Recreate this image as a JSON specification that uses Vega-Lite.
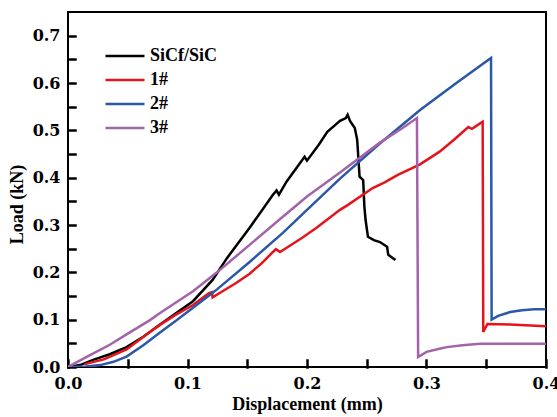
{
  "$schema": "https://vega.github.io/schema/vega-lite/v6.json",
  "width": 478,
  "height": 355,
  "autosize": {"type": "none"},
  "padding": {"left": 68, "top": 12, "right": 11, "bottom": 50},
  "background": "white",
  "config": {
    "view": {"stroke": "black", "strokeWidth": 2},
    "axis": {
      "domain": false,
      "ticks": true,
      "tickColor": "#000000",
      "tickOpacity": 1,
      "tickWidth": 2.5,
      "tickCap": "square",
      "zindex": 2,
      "grid": false,
      "labelFont": "DejaVu Serif",
      "labelFontWeight": "bold",
      "labelFontSize": 16,
      "labelColor": "black",
      "titleFont": "Liberation Serif",
      "titleFontWeight": "bold",
      "titleFontSize": 18,
      "titleColor": "black"
    }
  },
  "data": {
    "values": [
      {"s": "SiCf/SiC", "o": 1, "x": 0, "y": 0},
      {"s": "SiCf/SiC", "o": 2, "x": 0.01, "y": 0.004},
      {"s": "SiCf/SiC", "o": 3, "x": 0.021, "y": 0.015},
      {"s": "SiCf/SiC", "o": 4, "x": 0.035, "y": 0.027},
      {"s": "SiCf/SiC", "o": 5, "x": 0.049, "y": 0.042},
      {"s": "SiCf/SiC", "o": 6, "x": 0.063, "y": 0.064},
      {"s": "SiCf/SiC", "o": 7, "x": 0.077, "y": 0.09},
      {"s": "SiCf/SiC", "o": 8, "x": 0.09, "y": 0.113},
      {"s": "SiCf/SiC", "o": 9, "x": 0.1046, "y": 0.139},
      {"s": "SiCf/SiC", "o": 10, "x": 0.121, "y": 0.184},
      {"s": "SiCf/SiC", "o": 11, "x": 0.133, "y": 0.23},
      {"s": "SiCf/SiC", "o": 12, "x": 0.152, "y": 0.294},
      {"s": "SiCf/SiC", "o": 13, "x": 0.1715, "y": 0.364},
      {"s": "SiCf/SiC", "o": 14, "x": 0.1745, "y": 0.373},
      {"s": "SiCf/SiC", "o": 15, "x": 0.1765, "y": 0.364},
      {"s": "SiCf/SiC", "o": 16, "x": 0.183, "y": 0.392},
      {"s": "SiCf/SiC", "o": 17, "x": 0.198, "y": 0.444},
      {"s": "SiCf/SiC", "o": 18, "x": 0.2, "y": 0.436},
      {"s": "SiCf/SiC", "o": 19, "x": 0.21, "y": 0.47},
      {"s": "SiCf/SiC", "o": 20, "x": 0.217, "y": 0.497},
      {"s": "SiCf/SiC", "o": 21, "x": 0.223, "y": 0.51},
      {"s": "SiCf/SiC", "o": 22, "x": 0.2276, "y": 0.52},
      {"s": "SiCf/SiC", "o": 23, "x": 0.2325, "y": 0.526},
      {"s": "SiCf/SiC", "o": 24, "x": 0.234, "y": 0.533},
      {"s": "SiCf/SiC", "o": 25, "x": 0.236, "y": 0.52},
      {"s": "SiCf/SiC", "o": 26, "x": 0.24, "y": 0.505},
      {"s": "SiCf/SiC", "o": 27, "x": 0.242, "y": 0.48},
      {"s": "SiCf/SiC", "o": 28, "x": 0.244, "y": 0.402},
      {"s": "SiCf/SiC", "o": 29, "x": 0.247, "y": 0.395},
      {"s": "SiCf/SiC", "o": 30, "x": 0.248, "y": 0.34},
      {"s": "SiCf/SiC", "o": 31, "x": 0.249, "y": 0.311},
      {"s": "SiCf/SiC", "o": 32, "x": 0.251, "y": 0.275},
      {"s": "SiCf/SiC", "o": 33, "x": 0.256, "y": 0.268},
      {"s": "SiCf/SiC", "o": 34, "x": 0.261, "y": 0.264},
      {"s": "SiCf/SiC", "o": 35, "x": 0.267, "y": 0.254},
      {"s": "SiCf/SiC", "o": 36, "x": 0.268, "y": 0.237},
      {"s": "SiCf/SiC", "o": 37, "x": 0.274, "y": 0.226},

      {"s": "1#", "o": 1, "x": 0.014, "y": 0.006},
      {"s": "1#", "o": 2, "x": 0.03, "y": 0.016},
      {"s": "1#", "o": 3, "x": 0.049, "y": 0.037},
      {"s": "1#", "o": 4, "x": 0.0686, "y": 0.074},
      {"s": "1#", "o": 5, "x": 0.077, "y": 0.089},
      {"s": "1#", "o": 6, "x": 0.09, "y": 0.11},
      {"s": "1#", "o": 7, "x": 0.1046, "y": 0.131},
      {"s": "1#", "o": 8, "x": 0.113, "y": 0.147},
      {"s": "1#", "o": 9, "x": 0.118, "y": 0.156},
      {"s": "1#", "o": 10, "x": 0.1205, "y": 0.158},
      {"s": "1#", "o": 11, "x": 0.121, "y": 0.147},
      {"s": "1#", "o": 12, "x": 0.13, "y": 0.161},
      {"s": "1#", "o": 13, "x": 0.141, "y": 0.178},
      {"s": "1#", "o": 14, "x": 0.152, "y": 0.197},
      {"s": "1#", "o": 15, "x": 0.162, "y": 0.219},
      {"s": "1#", "o": 16, "x": 0.1715, "y": 0.243},
      {"s": "1#", "o": 17, "x": 0.174, "y": 0.249},
      {"s": "1#", "o": 18, "x": 0.1774, "y": 0.243},
      {"s": "1#", "o": 19, "x": 0.183, "y": 0.252},
      {"s": "1#", "o": 20, "x": 0.196, "y": 0.273},
      {"s": "1#", "o": 21, "x": 0.208, "y": 0.294},
      {"s": "1#", "o": 22, "x": 0.2276, "y": 0.332},
      {"s": "1#", "o": 23, "x": 0.234, "y": 0.342},
      {"s": "1#", "o": 24, "x": 0.255, "y": 0.378},
      {"s": "1#", "o": 25, "x": 0.265, "y": 0.39},
      {"s": "1#", "o": 26, "x": 0.276, "y": 0.406},
      {"s": "1#", "o": 27, "x": 0.2946, "y": 0.428},
      {"s": "1#", "o": 28, "x": 0.311, "y": 0.455},
      {"s": "1#", "o": 29, "x": 0.323, "y": 0.48},
      {"s": "1#", "o": 30, "x": 0.335, "y": 0.507},
      {"s": "1#", "o": 31, "x": 0.338, "y": 0.503},
      {"s": "1#", "o": 32, "x": 0.342, "y": 0.51},
      {"s": "1#", "o": 33, "x": 0.347, "y": 0.518},
      {"s": "1#", "o": 34, "x": 0.3475, "y": 0.074},
      {"s": "1#", "o": 35, "x": 0.351, "y": 0.091},
      {"s": "1#", "o": 36, "x": 0.37, "y": 0.09},
      {"s": "1#", "o": 37, "x": 0.4, "y": 0.086},

      {"s": "2#", "o": 1, "x": 0, "y": 0},
      {"s": "2#", "o": 2, "x": 0.015, "y": 0.001},
      {"s": "2#", "o": 3, "x": 0.027, "y": 0.004},
      {"s": "2#", "o": 4, "x": 0.038, "y": 0.011},
      {"s": "2#", "o": 5, "x": 0.049, "y": 0.022},
      {"s": "2#", "o": 6, "x": 0.063, "y": 0.046},
      {"s": "2#", "o": 7, "x": 0.077, "y": 0.073},
      {"s": "2#", "o": 8, "x": 0.09, "y": 0.097},
      {"s": "2#", "o": 9, "x": 0.1046, "y": 0.125},
      {"s": "2#", "o": 10, "x": 0.1205, "y": 0.156},
      {"s": "2#", "o": 11, "x": 0.1247, "y": 0.164},
      {"s": "2#", "o": 12, "x": 0.152, "y": 0.222},
      {"s": "2#", "o": 13, "x": 0.18, "y": 0.284},
      {"s": "2#", "o": 14, "x": 0.2, "y": 0.332},
      {"s": "2#", "o": 15, "x": 0.2276, "y": 0.398},
      {"s": "2#", "o": 16, "x": 0.26, "y": 0.47},
      {"s": "2#", "o": 17, "x": 0.2946, "y": 0.543},
      {"s": "2#", "o": 18, "x": 0.325, "y": 0.6},
      {"s": "2#", "o": 19, "x": 0.354, "y": 0.653},
      {"s": "2#", "o": 20, "x": 0.3545, "y": 0.1},
      {"s": "2#", "o": 21, "x": 0.36, "y": 0.108},
      {"s": "2#", "o": 22, "x": 0.37, "y": 0.116},
      {"s": "2#", "o": 23, "x": 0.38, "y": 0.12},
      {"s": "2#", "o": 24, "x": 0.39, "y": 0.122},
      {"s": "2#", "o": 25, "x": 0.4, "y": 0.122},

      {"s": "3#", "o": 1, "x": 0, "y": 0},
      {"s": "3#", "o": 2, "x": 0.0184, "y": 0.025},
      {"s": "3#", "o": 3, "x": 0.035, "y": 0.047},
      {"s": "3#", "o": 4, "x": 0.049, "y": 0.069},
      {"s": "3#", "o": 5, "x": 0.0686, "y": 0.099},
      {"s": "3#", "o": 6, "x": 0.077, "y": 0.114},
      {"s": "3#", "o": 7, "x": 0.1046, "y": 0.16},
      {"s": "3#", "o": 8, "x": 0.1247, "y": 0.2},
      {"s": "3#", "o": 9, "x": 0.152, "y": 0.258},
      {"s": "3#", "o": 10, "x": 0.18, "y": 0.318},
      {"s": "3#", "o": 11, "x": 0.2, "y": 0.36},
      {"s": "3#", "o": 12, "x": 0.2276, "y": 0.411},
      {"s": "3#", "o": 13, "x": 0.261, "y": 0.474},
      {"s": "3#", "o": 14, "x": 0.28, "y": 0.505},
      {"s": "3#", "o": 15, "x": 0.292, "y": 0.526},
      {"s": "3#", "o": 16, "x": 0.293, "y": 0.021},
      {"s": "3#", "o": 17, "x": 0.3, "y": 0.032},
      {"s": "3#", "o": 18, "x": 0.31, "y": 0.038},
      {"s": "3#", "o": 19, "x": 0.317, "y": 0.042},
      {"s": "3#", "o": 20, "x": 0.33, "y": 0.046},
      {"s": "3#", "o": 21, "x": 0.345, "y": 0.049},
      {"s": "3#", "o": 22, "x": 0.4, "y": 0.049}
    ]
  },
  "mark": {"type": "line", "strokeWidth": 2.5, "clip": true},
  "encoding": {
    "x": {
      "field": "x",
      "type": "quantitative",
      "scale": {"domain": [0, 0.4], "nice": false, "zero": false},
      "axis": {
        "title": "Displacement (mm)",
        "values": [0, 0.05, 0.1, 0.15, 0.2, 0.25, 0.3, 0.35, 0.4],
        "labelExpr": "abs(datum.value*10 - round(datum.value*10)) < 0.001 ? format(datum.value, '.1f') : ''",
        "offset": -7,
        "tickSize": 7,
        "labelPadding": 8,
        "titlePadding": 4,
        "labelFlush": false,
        "labelOverlap": false
      }
    },
    "y": {
      "field": "y",
      "type": "quantitative",
      "scale": {"domain": [0, 0.75], "nice": false, "zero": false},
      "axis": {
        "title": "Load (kN)",
        "titleY": 192,
        "values": [0, 0.05, 0.1, 0.15, 0.2, 0.25, 0.3, 0.35, 0.4, 0.45, 0.5, 0.55, 0.6, 0.65, 0.7],
        "labelExpr": "abs(datum.value*10 - round(datum.value*10)) < 0.001 ? format(datum.value, '.1f') : ''",
        "offset": -7,
        "tickSize": 7,
        "labelPadding": 8,
        "titlePadding": 6,
        "labelFlush": false,
        "labelOverlap": false
      }
    },
    "color": {
      "field": "s",
      "type": "nominal",
      "scale": {"domain": ["SiCf/SiC", "1#", "2#", "3#"], "range": ["#000000", "#e4141c", "#2a58a6", "#a463a9"]},
      "legend": {
        "title": null,
        "orient": "none",
        "legendX": 46,
        "legendY": 33,
        "padding": 0,
        "symbolType": "M-2,0H2",
        "symbolSize": 380,
        "symbolStrokeWidth": 2.5,
        "labelFont": "Liberation Serif",
        "labelFontWeight": "bold",
        "labelFontSize": 18,
        "labelColor": "black",
        "labelOffset": 14,
        "rowPadding": 4
      }
    },
    "order": {"field": "o", "type": "quantitative"}
  }
}
